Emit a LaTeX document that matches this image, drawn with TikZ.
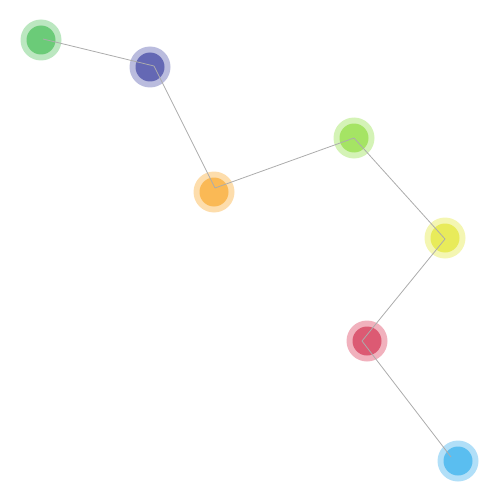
\documentclass[tikz,border=0pt]{standalone}
\begin{document}
\begin{tikzpicture}[x=1pt,y=-1pt,
  dot/.style={circle,inner sep=0pt,minimum size=29pt,fill=#1},
  halo/.style={circle,inner sep=0pt,minimum size=41pt,fill=#1},
  link/.style={draw=gray!65,line width=0.8pt}]
\useasboundingbox (0,0) rectangle (500,500);
\definecolor{cA}{RGB}{107,203,120}\definecolor{hA}{RGB}{187,231,192}
\definecolor{cB}{RGB}{100,104,180}\definecolor{hB}{RGB}{186,188,222}
\definecolor{cC}{RGB}{250,185,85}\definecolor{hC}{RGB}{253,221,172}
\definecolor{cD}{RGB}{165,228,100}\definecolor{hD}{RGB}{212,243,182}
\definecolor{cE}{RGB}{232,235,90}\definecolor{hE}{RGB}{244,246,178}
\definecolor{cF}{RGB}{220,90,115}\definecolor{hF}{RGB}{241,177,189}
\definecolor{cG}{RGB}{90,190,240}\definecolor{hG}{RGB}{177,223,248}
\node[halo=hA] (hA) at (41,40) {};  \node[dot=cA] (nA) at (41,40) {};
\node[halo=hB] (hB) at (150,67) {}; \node[dot=cB] (nB) at (150,67) {};
\node[halo=hC] (hC) at (214,192) {}; \node[dot=cC] (nC) at (214,192) {};
\node[halo=hD] (hD) at (354,138) {}; \node[dot=cD] (nD) at (354,138) {};
\node[halo=hE] (hE) at (445,238) {}; \node[dot=cE] (nE) at (445,238) {};
\node[halo=hF] (hF) at (367,341) {}; \node[dot=cF] (nF) at (367,341) {};
\node[halo=hG] (hG) at (458,461) {}; \node[dot=cG] (nG) at (458,461) {};
\coordinate (pA) at (43,39);
\coordinate (pB) at (154,66);
\coordinate (pC) at (215,188);
\coordinate (pD) at (354,138);
\coordinate (pE) at (445,239);
\coordinate (pF) at (362,341);
\coordinate (pG) at (451,457);
\draw[link] (pA) -- (pB);
\draw[link] (pB) -- (pC);
\draw[link] (pC) -- (pD);
\draw[link] (pD) -- (pE);
\draw[link] (pE) -- (pF);
\draw[link] (pF) -- (pG);
\end{tikzpicture}
\end{document}
